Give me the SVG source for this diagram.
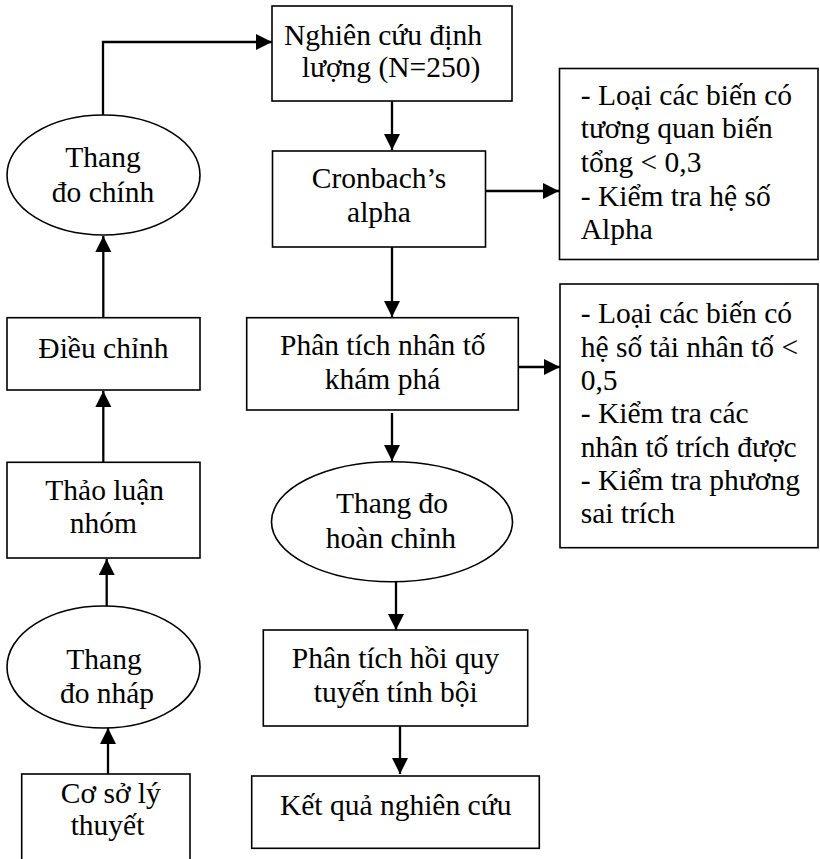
<svg xmlns="http://www.w3.org/2000/svg" width="820" height="859" viewBox="0 0 820 859">
<style>
.b{fill:#fff;stroke:#000;stroke-width:1.6}
.t{font-family:"Liberation Serif","Times New Roman",serif;font-size:29.5px;fill:#000;text-anchor:middle}
.l{font-family:"Liberation Serif","Times New Roman",serif;font-size:29.5px;fill:#000}
.c{fill:none;stroke:#000;stroke-width:2.3}
</style>
<defs>
<marker id="ah" markerUnits="userSpaceOnUse" markerWidth="18" markerHeight="18" refX="16" refY="8" orient="auto">
<path d="M0,0 L16,8 L0,16 z" fill="#000"/>
</marker>
</defs>
<rect width="820" height="859" fill="#fff"/>
<g id="connectors">
<path class="c" d="M103,115 V42 H272" marker-end="url(#ah)"/>
<path class="c" d="M392,101 V150" marker-end="url(#ah)"/>
<path class="c" d="M486,191 H559" marker-end="url(#ah)"/>
<path class="c" d="M392,247 V317" marker-end="url(#ah)"/>
<path class="c" d="M511,367 H560" marker-end="url(#ah)"/>
<path class="c" d="M392,413 V461" marker-end="url(#ah)"/>
<path class="c" d="M396,582 V630" marker-end="url(#ah)"/>
<path class="c" d="M400,726 V774" marker-end="url(#ah)"/>
<path class="c" d="M108,774 V728" marker-end="url(#ah)"/>
<path class="c" d="M106.7,607 V559" marker-end="url(#ah)"/>
<path class="c" d="M103.3,462 V391" marker-end="url(#ah)"/>
<path class="c" d="M103.3,318 V236" marker-end="url(#ah)"/>
</g>
<g id="n-nghiencuu">
<rect class="b" x="272" y="6" width="240" height="95"/>
<text class="t" x="383" y="45">Nghiên cứu định</text>
<text class="t" x="391" y="77">lượng (N=250)</text>
</g>
<g id="n-cronbach">
<rect class="b" x="272.5" y="151" width="213" height="96"/>
<text class="t" x="379" y="188">Cronbach’s</text>
<text class="t" x="379" y="221.5">alpha</text>
</g>
<g id="n-note1">
<rect class="b" x="559.5" y="68.5" width="258.5" height="191"/>
<text class="l" x="580.7" y="105">- Loại các biến có</text>
<text class="l" x="580.7" y="138.3">tương quan biến</text>
<text class="l" x="580.7" y="171.7">tổng &lt; 0,3</text>
<text class="l" x="580.7" y="206">- Kiểm tra hệ số</text>
<text class="l" x="580.7" y="239.3">Alpha</text>
</g>
<g id="n-efa">
<rect class="b" x="246.7" y="317.7" width="271.6" height="92.3"/>
<text class="t" x="382.8" y="355">Phân tích nhân tố</text>
<text class="t" x="382.5" y="389">khám phá</text>
</g>
<g id="n-note2">
<rect class="b" x="560" y="284" width="258" height="263.7"/>
<text class="l" x="580.7" y="323.3">- Loại các biến có</text>
<text class="l" x="580.7" y="356.7">hệ số tải nhân tố &lt;</text>
<text class="l" x="580.7" y="389.5">0,5</text>
<text class="l" x="580.7" y="423.3">- Kiểm tra các</text>
<text class="l" x="580.7" y="456.7">nhân tố trích được</text>
<text class="l" x="580.7" y="490">- Kiểm tra phương</text>
<text class="l" x="580.7" y="523.3">sai trích</text>
</g>
<g id="n-hoanchinh">
<ellipse class="b" cx="392" cy="521.7" rx="120.5" ry="60"/>
<text class="t" x="392" y="513.3">Thang đo</text>
<text class="t" x="391" y="548.3">hoàn chỉnh</text>
</g>
<g id="n-hoiquy">
<rect class="b" x="263.3" y="630" width="264.4" height="96"/>
<text class="t" x="395.5" y="668.3">Phân tích hồi quy</text>
<text class="t" x="395.8" y="701.7">tuyến tính bội</text>
</g>
<g id="n-ketqua">
<rect class="b" x="251.7" y="776" width="287.6" height="72.3"/>
<text class="t" x="395.7" y="815">Kết quả nghiên cứu</text>
</g>
<g id="n-thangdochinh">
<ellipse class="b" cx="103.5" cy="175" rx="96.5" ry="60"/>
<text class="t" x="103" y="167">Thang</text>
<text class="t" x="103" y="201.5">đo chính</text>
</g>
<g id="n-dieuchinh">
<rect class="b" x="7" y="317.7" width="193" height="72.3"/>
<text class="t" x="103.5" y="357.7">Điều chỉnh</text>
</g>
<g id="n-thaoluan">
<rect class="b" x="7" y="462.3" width="193" height="95.7"/>
<text class="t" x="104.7" y="500">Thảo luận</text>
<text class="t" x="103.3" y="533.3">nhóm</text>
</g>
<g id="n-thangdonhap">
<ellipse class="b" cx="103.5" cy="667" rx="96.5" ry="61"/>
<text class="t" x="104" y="669">Thang</text>
<text class="t" x="107" y="703">đo nháp</text>
</g>
<g id="n-cosoly">
<rect class="b" x="21.7" y="774" width="168.3" height="100"/>
<text class="t" x="110.8" y="803">Cơ sở lý</text>
<text class="t" x="107.5" y="835">thuyết</text>
</g>
</svg>
